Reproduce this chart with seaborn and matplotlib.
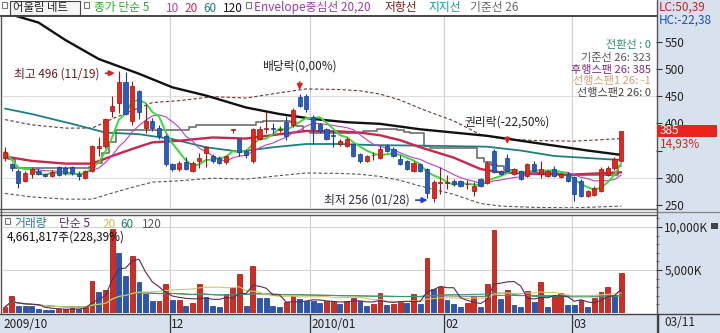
import numpy as np
import pandas as pd
import matplotlib
matplotlib.use("Agg")
import matplotlib.pyplot as plt
from matplotlib.patches import Rectangle
from matplotlib.lines import Line2D
import seaborn as sns

# ---------------- data ----------------
opens = [337, 325, 313, 294, 307, 313, 307, 304, 319, 318, 319, 307, 299, 313, 355, 359, 422, 438, 475, 405,
         460, 392, 405, 392, 377, 325, 316, 329, 313, 331, 345, 340, 337, 329, 388, 371, 350, 331, 372, 390,
         392, 388, 402, 396, 448, 451, 411, 399, 389, 378, 362, 359, 362, 344, 331, 341, 337, 359, 353, 334,
         331, 313, 325, 316, 262, 290, 291, 294, 294, 288, 276, 298, 291, 350, 313, 337, 307, 313, 304, 325,
         307, 304, 316, 301, 307, 301, 294, 267, 269, 276, 305, 318, 331]
highs = [356, 328, 316, 313, 320, 318, 309, 314, 321, 322, 321, 312, 315, 360, 374, 410, 451, 496, 494, 478,
         462, 436, 410, 396, 380, 328, 330, 338, 330, 346, 358, 343, 340, 342, 389, 372, 352, 392, 395, 420,
         400, 395, 413, 428, 453, 454, 415, 401, 392, 388, 372, 374, 364, 346, 342, 348, 358, 362, 356, 342,
         333, 330, 327, 318, 296, 319, 306, 298, 296, 296, 292, 300, 330, 353, 315, 344, 318, 315, 328, 331,
         330, 315, 321, 309, 310, 303, 297, 278, 284, 319, 322, 338, 385]
lows = [331, 313, 281, 292, 300, 305, 302, 302, 303, 306, 306, 296, 297, 310, 340, 355, 411, 418, 415, 396,
        408, 383, 385, 372, 322, 312, 313, 314, 311, 318, 319, 328, 326, 326, 383, 340, 336, 328, 370, 383,
        383, 384, 370, 394, 430, 420, 362, 383, 370, 357, 358, 356, 338, 328, 329, 332, 335, 348, 338, 323,
        314, 311, 311, 262, 256, 270, 279, 284, 283, 280, 267, 283, 289, 308, 305, 311, 305, 296, 302, 311,
        300, 302, 302, 299, 292, 258, 265, 265, 267, 274, 303, 315, 330]
closes = [348, 318, 290, 308, 316, 307, 304, 311, 305, 309, 308, 304, 313, 359, 359, 408, 432, 475, 417, 469,
          420, 405, 392, 377, 325, 316, 327, 316, 327, 337, 356, 331, 328, 340, 389, 347, 341, 389, 390, 392,
          390, 390, 377, 424, 432, 426, 389, 386, 372, 376, 368, 371, 340, 331, 340, 342, 353, 350, 340, 325,
          316, 328, 313, 272, 292, 292, 292, 288, 285, 288, 285, 285, 328, 310, 307, 313, 316, 298, 325, 313,
          316, 313, 304, 307, 294, 270, 267, 276, 282, 316, 318, 335, 385]
volumes = [700, 1980, 815, 800, 790, 504, 388, 310, 466, 504, 540, 500, 776, 3725, 2444, 2638, 9816, 6984, 4268, 6596,
           3608, 2250, 1397, 1410, 3337, 1474, 1480, 815, 1164, 3337, 1862, 815, 737, 2250, 2949, 4578, 815, 5432, 1785, 1780,
           815, 698, 1280, 1940, 1668, 1397, 1390, 1164, 1397, 1400, 1086, 1397, 1785, 1397, 815, 1009, 2367, 892, 1086, 1280,
           1164, 2250, 1009, 6441, 2755, 3026, 1474, 1009, 698, 1164, 1940, 698, 3337, 9700, 1668, 2716, 892, 698, 2561, 1280,
           3608, 698, 1940, 2328, 970, 892, 1552, 698, 1785, 2444, 3026, 2056, 4662]

# moving-average lines (candle index, price)
ma20_idx = [0, 4, 9, 13, 16, 19, 22, 26, 31, 36, 41, 45, 50, 53, 56, 59, 62, 67, 71, 74, 79, 85, 92]
ma20_val = [339, 331, 326, 326, 340, 353, 365, 368, 374, 372, 380, 386, 385, 383, 378, 369, 356, 337, 316, 310, 307, 306, 310]
ma60_idx = [0, 4, 10, 15, 20, 25, 30, 35, 40, 45, 50, 55, 62, 72, 77, 82, 90, 92]
ma60_val = [427, 417, 399, 383, 380, 371, 356, 348, 356, 362, 362, 360, 359, 357, 350, 340, 334, 333]
ma120_idx = [0, 5, 9, 14, 20, 25, 30, 36, 41, 46, 51, 56, 62, 67, 72, 77, 82, 87, 92]
ma120_val = [603, 585, 553, 518, 491, 466, 451, 429, 417, 408, 402, 399, 389, 383, 377, 368, 359, 350, 342]

price_ticks = [250, 300, 350, 400, 450, 500, 550]
price_tick_labels = ["250", "300", "", "400", "450", "500", "550"]   # 350 is hidden under the 14,93% tag
vol_ticks = [5000, 10000]
vol_tick_labels = ["5,000K", "10,000K"]
month_labels = ["2009/10", "12", "2010/01", "02", "03"]
month_start = [0, 25, 46, 66, 85]

# ---------------- style ----------------
sns.set_theme(style="white")
plt.rcParams["font.family"] = ["Noto Sans CJK KR", "DejaVu Sans"]
plt.rcParams["axes.unicode_minus"] = False

W, H = 720, 333
fig = plt.figure(figsize=(7.2, 3.33), dpi=100)
fig.patch.set_facecolor("white")


def fx(px):
    return px / W


def fy(py):
    return 1 - py / H


def ftext(px, py, s, color, ha="left", size=8.5, **kw):
    fig.text(fx(px), fy(py), s, color=color, ha=ha, va="center", fontsize=size, **kw)


PANEL = "#d8e2ee"
RED, RED_E = "#e5261c", "#a3120c"
BLUE, BLUE_E = "#2a5cc0", "#173c8a"

# background panels (right scale area and date strip)
fig.add_artist(Rectangle((fx(657), 0), 1 - fx(657), 1, transform=fig.transFigure,
                         facecolor=PANEL, edgecolor="none", zorder=-5))
fig.add_artist(Rectangle((0, 0), fx(657), fy(314), transform=fig.transFigure,
                         facecolor=PANEL, edgecolor="none", zorder=-5))

XL = (-0.3, 97.2)
ax_p = fig.add_axes([fx(3), fy(208), fx(656) - fx(3), fy(16) - fy(208)])
ax_v = fig.add_axes([fx(3), fy(313), fx(656) - fx(3), fy(215) - fy(313)])
ax_d = fig.add_axes([fx(3), 0, fx(656) - fx(3), fy(314)])
for a in (ax_p, ax_v, ax_d):
    a.set_xlim(*XL)
    for s in a.spines.values():
        s.set_visible(False)
    a.set_xticks([])
    a.patch.set_alpha(0)
ax_d.set_yticks([])
ax_d.set_ylim(0, 1)

idx = np.arange(len(closes))
o, h, l, c = map(np.array, (opens, highs, lows, closes))
up = c >= o

# grid
seps = [m - 0.4 for m in month_start[1:]]
for a in (ax_p, ax_v):
    for sx in seps:
        a.axvline(sx, color="#cfcfcf", lw=0.8, zorder=0)
for gy in (300, 450):
    ax_p.axhline(gy, color="#dddddd", lw=0.8, zorder=0)
for gy in vol_ticks:
    ax_v.axhline(gy, color="#d5d5d5", lw=0.8, zorder=0)

# ---------------- price panel ----------------
ax_p.set_ylim(244.5, 597)
ma20 = np.interp(idx, ma20_idx, ma20_val)
env_up = ma20 * 1.2
env_dn = ma20 * 0.8
sns.lineplot(x=idx, y=env_up, ax=ax_p, color="#6a3535", lw=0.8, linestyle=(0, (3, 2)), zorder=1)
sns.lineplot(x=idx, y=env_dn, ax=ax_p, color="#555555", lw=0.8, linestyle=(0, (3, 2)), zorder=1)

base26 = (pd.Series(highs).rolling(26, min_periods=1).max() + pd.Series(lows).rolling(26, min_periods=1).min()) / 2
sns.lineplot(x=idx, y=base26.values, ax=ax_p, color="#6e6e6e", lw=1.2, zorder=2, drawstyle="steps-mid")
sns.lineplot(x=ma120_idx, y=ma120_val, ax=ax_p, color="#111111", lw=1.7, zorder=2)
sns.lineplot(x=ma60_idx, y=ma60_val, ax=ax_p, color="#1f7f7f", lw=1.3, zorder=2)
sns.lineplot(x=ma20_idx, y=ma20_val, ax=ax_p, color="#c8284e", lw=1.7, zorder=2)

s_close = pd.Series(closes)
ma5 = s_close.rolling(5, min_periods=1).mean()
ma10 = s_close.rolling(10, min_periods=1).mean()
sns.lineplot(x=idx, y=ma10.values, ax=ax_p, color="#c040c0", lw=0.8, zorder=2)
sns.lineplot(x=idx, y=ma5.values, ax=ax_p, color="#3cd83c", lw=1.4, zorder=2)

# candles
wcol = np.where(up, RED_E, BLUE_E)
ax_p.vlines(idx, l, h, colors=wcol, lw=0.8, zorder=3)
body_lo = np.minimum(o, c)
body_h = np.maximum(np.abs(c - o), 0.9)
ax_p.bar(idx, body_h, bottom=body_lo, width=0.62, color=np.where(up, RED, BLUE),
         edgecolor=wcol, linewidth=0.5, zorder=4)

ax_p.yaxis.tick_right()
ax_p.set_yticks(price_ticks)
ax_p.set_yticklabels(price_tick_labels)
ax_p.tick_params(axis="y", length=4, width=0.8, color="#333333", labelsize=8.5,
                 labelcolor="#222222", pad=2, direction="out", right=True)

# annotations
ax_p.annotate("", xy=(16.8, 492), xytext=(14.6, 492),
              arrowprops=dict(arrowstyle="-|>", color="#e02020", lw=1.2, mutation_scale=8), zorder=6)
ax_p.text(14.1, 491, "최고 496 (11/19)", ha="right", va="center", fontsize=8.5, color="#6a1a1a")
ax_p.text(43.9, 506, "배당락(0,00%)", ha="center", va="center", fontsize=8.5, color="#222222")
ax_p.annotate("", xy=(44, 456), xytext=(44, 481),
              arrowprops=dict(arrowstyle="-|>", color="#e02020", lw=1.2, mutation_scale=8), zorder=6)
ax_p.text(60.4, 259, "최저 256 (01/28)", ha="right", va="center", fontsize=8.5, color="#2a2a3a")
ax_p.annotate("", xy=(63.5, 259), xytext=(60.9, 259),
              arrowprops=dict(arrowstyle="-|>", color="#1f3fd0", lw=1.2, mutation_scale=8), zorder=6)
ax_p.text(75, 403, "권리락(-22,50%)", ha="center", va="center", fontsize=8.5, color="#222222")
ax_p.annotate("", xy=(75, 357), xytext=(75, 380),
              arrowprops=dict(arrowstyle="-|>", color="#e02020", lw=1.2, mutation_scale=8), zorder=6)

# ---------------- volume panel ----------------
ax_v.set_ylim(0, 11400)
vol = np.array(volumes)
vol_up = np.concatenate([[True], vol[1:] >= vol[:-1]])
ax_v.bar(idx, vol, width=0.72, color=np.where(vol_up, "#d42a20", "#2a55b0"),
         edgecolor=np.where(vol_up, "#8e1410", "#173c80"), linewidth=0.5, zorder=3)
s_vol = pd.Series(volumes)
for win, col in ((120, "#7a7a7a"), (60, "#3a9a6a"), (20, "#cfc860"), (5, "#5a2a5a")):
    sns.lineplot(x=idx, y=s_vol.rolling(win, min_periods=1).mean().values, ax=ax_v,
                 color=col, lw=0.8, zorder=4)
ax_v.yaxis.tick_right()
ax_v.set_yticks(vol_ticks)
ax_v.set_yticklabels(vol_tick_labels)
ax_v.set_yticks(np.arange(1000, 11001, 1000), minor=True)
ax_v.tick_params(axis="y", which="major", length=4, width=0.8, color="#333333",
                 labelsize=8.5, labelcolor="#222222", pad=2, right=True)
ax_v.tick_params(axis="y", which="minor", length=2, width=0.6, color="#555555", right=True)

# ---------------- date strip ----------------
for sx in seps:
    ax_d.axvline(sx, color="#333333", lw=0.9)
for m, lab in zip(month_start, month_labels):
    xpos = -0.2 if m == 0 else m - 0.2
    ax_d.text(xpos, 0.45, lab, ha="left", va="center", fontsize=8.5, color="#222222")

# ---------------- frame lines ----------------
def hline(py, x0, x1, color="#555555", lw=1.0):
    fig.add_artist(Line2D([fx(x0), fx(x1)], [fy(py), fy(py)], transform=fig.transFigure, color=color, lw=lw))


def vline(px, y0, y1, color="#555555", lw=1.0):
    fig.add_artist(Line2D([fx(px), fx(px)], [fy(y0), fy(y1)], transform=fig.transFigure, color=color, lw=lw))


hline(15.5, 0, 657, "#444444", 1.4)
hline(208.5, 0, 657, "#555555", 1.0)
hline(211.5, 0, 720, "#888888", 1.0)
hline(214.5, 0, 657, "#555555", 1.0)
hline(313.5, 0, 720, "#444444", 1.0)
vline(1, 15, 314, "#555555", 1.0)
vline(656.5, 0, 333, "#555555", 1.0)
vline(657.5, 314, 333, "#333333", 1.0)

# ---------------- top legend ----------------
def sq(px, py):
    fig.add_artist(Rectangle((fx(px), fy(py + 3)), 5 / W, 6 / H, transform=fig.transFigure,
                             facecolor="white", edgecolor="#777777", lw=0.8))


sq(2, 5)
fig.add_artist(Rectangle((fx(10), fy(15)), 70 / W, 14 / H, transform=fig.transFigure,
                         facecolor="#f6f6f6", edgecolor="#444444", lw=0.8))
ftext(13, 8, "어울림 네트", "#222222", size=8.2)
sq(84, 5)
ftext(94, 8, "종가 단순 5", "#2eaa2e")
ftext(166, 8, "10", "#b03cb0")
ftext(184, 8, "20", "#c8284e")
ftext(203, 8, "60", "#1f7f7f")
ftext(223, 8, "120", "#111111")
sq(246, 5)
ftext(254, 8, "Envelope중심선 20,20", "#9a3aa8")
ftext(385, 8, "저항선", "#7a1a1a")
ftext(428, 8, "지지선", "#159a9a")
ftext(470, 8, "기준선 26", "#666666")

# right-side info
ftext(659, 7, "LC:50,39", "#cc2020", size=8.5)
ftext(659, 20, "HC:-22,38", "#2050b0", size=8.5)
ftext(651, 45, "전환선 : 0", "#2a8a6a", ha="right", size=8)
ftext(651, 57.5, "기준선 26: 323", "#555555", ha="right", size=8)
ftext(651, 69.5, "후행스팬 26: 385", "#7a2a7a", ha="right", size=8)
ftext(651, 81, "선행스팬1 26: -1", "#d0a070", ha="right", size=8)
ftext(651, 93, "선행스팬2 26: 0", "#444444", ha="right", size=8)

fig.add_artist(Rectangle((fx(657), fy(137)), 60 / W, 12 / H, transform=fig.transFigure,
                         facecolor="#e8241c", edgecolor="none", zorder=5))
fig.text(fx(660), fy(131), "385", color="white", ha="left", va="center", fontsize=8.5, zorder=6)
ftext(660, 144, "14,93%", "#dd2020")

# volume legend
sq(5, 221)
ftext(14, 224, "거래량", "#2a7a8a")
ftext(59, 224, "단순 5", "#5a2a5a")
ftext(102, 224, "20", "#c8c050")
ftext(120, 224, "60", "#2a7a6a")
ftext(142, 224, "120", "#555555")
ftext(7, 237, "4,661,817주(228,39%)", "#111111")
fig.add_artist(Rectangle((fx(711), fy(229)), 7 / W, 6 / H, transform=fig.transFigure,
                         facecolor="#444444", edgecolor="none"))

# date label in right panel
ftext(664, 323, "03/11", "#222222")

fig.savefig("out.png", dpi=100)
